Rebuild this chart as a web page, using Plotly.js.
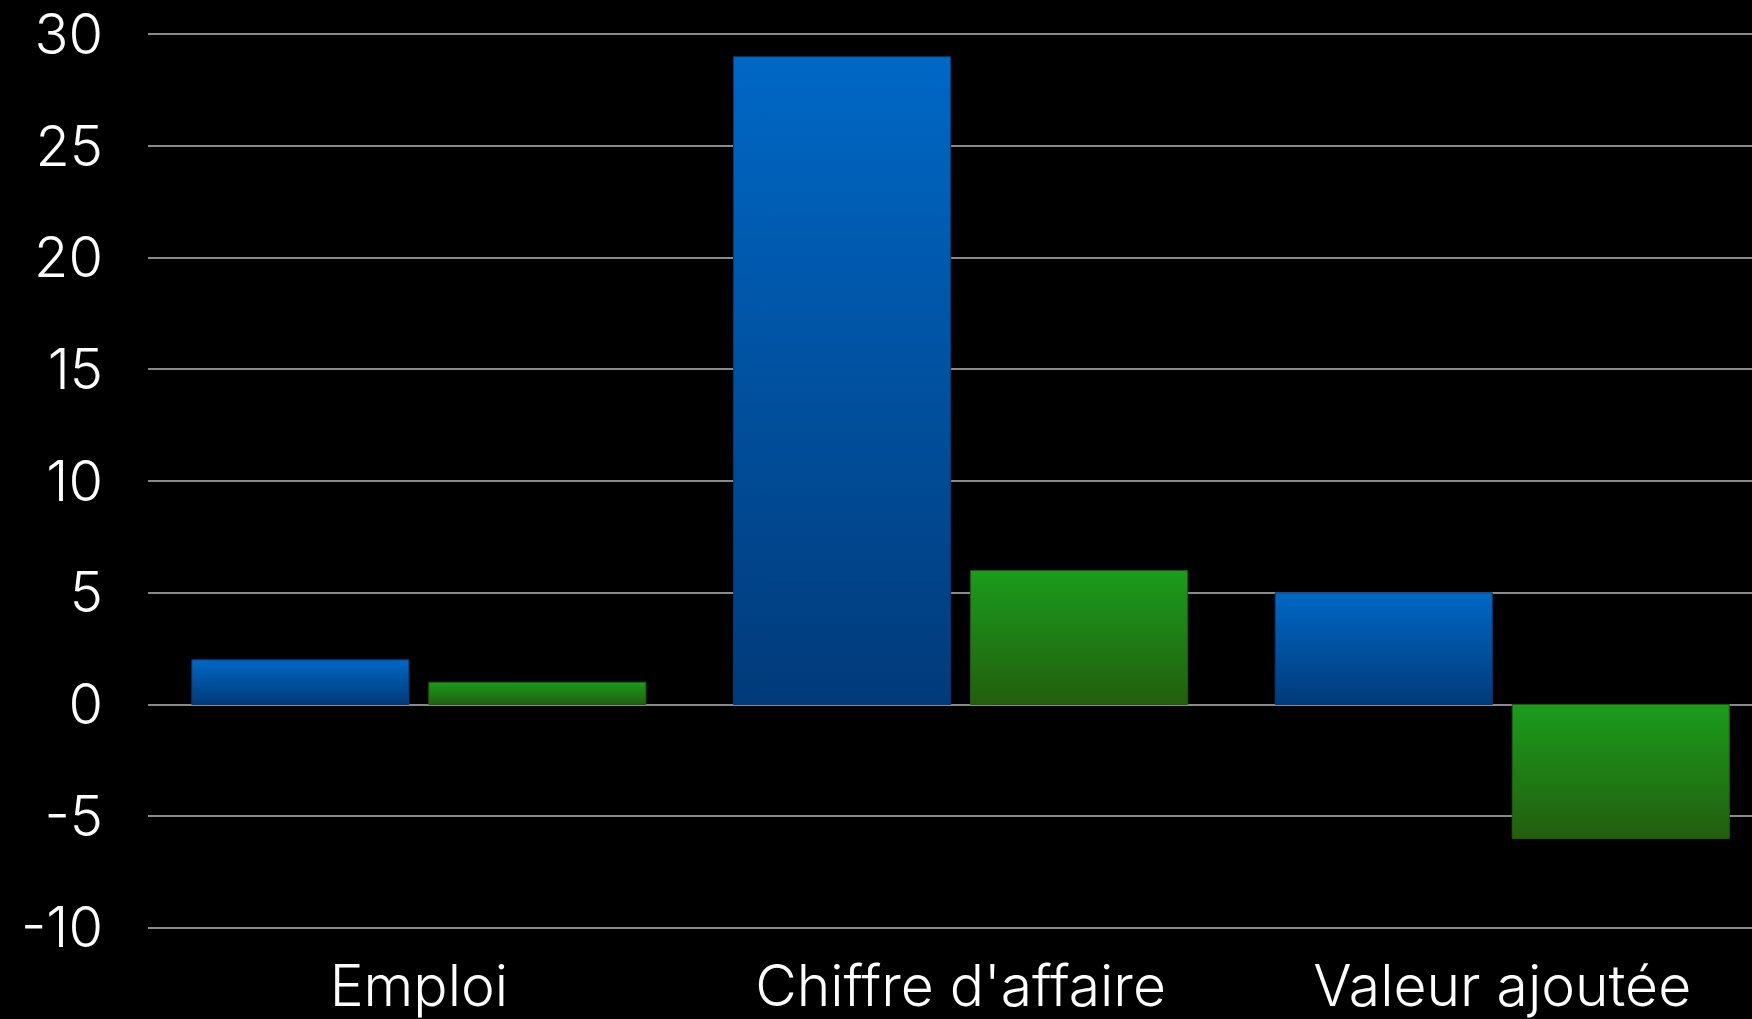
<!DOCTYPE html>
<html>
<head>
<meta charset="utf-8">
<script src="https://cdn.plot.ly/plotly-3.0.1.min.js"></script>
<style>
  html, body { margin: 0; padding: 0; background: #000; }
  #chart { width: 1752px; height: 1019px; }
</style>
</head>
<body>
<div id="chart"></div>
<script>
const categories = ['Emploi', "Chiffre d'affaire", 'Valeur ajoutée'];
const seriesBlue = [2, 29, 5];
const seriesGreen = [1, 6, -6];
const yTickValues = [-10, -5, 0, 5, 10, 15, 20, 25, 30];

const fontFamily = 'Inter, "Open Sans", Roboto, "Liberation Sans", sans-serif';

const traces = [
  {
    type: 'bar',
    x: categories,
    y: seriesBlue,
    name: 'A',
    marker: { color: '#0058b0', line: { width: 1, color: '#003a78' } },
    hoverinfo: 'skip'
  },
  {
    type: 'bar',
    x: categories,
    y: seriesGreen,
    name: 'B',
    marker: { color: '#1e8a18', line: { width: 1, color: '#1d5a10' } },
    hoverinfo: 'skip'
  }
];

const layout = {
  width: 1752,
  height: 1019,
  paper_bgcolor: '#000',
  plot_bgcolor: '#000',
  showlegend: false,
  barmode: 'group',
  bargap: 0.125,
  bargroupgap: 0.084,
  margin: { l: 148, r: 0, t: 10, b: 90, pad: 0 },
  font: { family: fontFamily, color: '#fff', size: 56, weight: 300 },
  xaxis: {
    type: 'category',
    range: [-0.5, 2.461],
    showgrid: false,
    zeroline: false,
    showline: false,
    ticks: '',
    ticklabelstandoff: 19,
    ticklabeloverflow: 'allow',
    tickfont: { family: fontFamily, size: 57, color: '#fff', weight: 300 }
  },
  yaxis: {
    range: [-10.05, 31.09],
    tickvals: yTickValues,
    ticktext: yTickValues.map(String),
    showgrid: true,
    gridcolor: '#8a8a8a',
    gridwidth: 2,
    zeroline: true,
    zerolinecolor: '#8a8a8a',
    zerolinewidth: 2,
    showline: false,
    ticks: '',
    ticklabelstandoff: 44,
    ticklabeloverflow: 'allow',
    tickfont: { family: fontFamily, size: 56, color: '#fff', weight: 300 }
  }
};

Plotly.newPlot('chart', traces, layout, { staticPlot: true, displayModeBar: false }).then(function (gd) {
  const svg = gd.querySelector('.main-svg');
  const ns = 'http://www.w3.org/2000/svg';
  let defs = svg.querySelector('defs');
  if (!defs) { defs = document.createElementNS(ns, 'defs'); svg.insertBefore(defs, svg.firstChild); }
  function grad(id, top, bottom) {
    const g = document.createElementNS(ns, 'linearGradient');
    g.setAttribute('id', id);
    g.setAttribute('x1', '0'); g.setAttribute('y1', '0');
    g.setAttribute('x2', '0'); g.setAttribute('y2', '1');
    const s1 = document.createElementNS(ns, 'stop');
    s1.setAttribute('offset', '0'); s1.setAttribute('stop-color', top);
    const s2 = document.createElementNS(ns, 'stop');
    s2.setAttribute('offset', '1'); s2.setAttribute('stop-color', bottom);
    g.appendChild(s1); g.appendChild(s2);
    defs.appendChild(g);
  }
  grad('gradBlue', '#0068c6', '#013a7a');
  grad('gradGreen', '#1b9c1c', '#235e0e');
  const barTraces = gd.querySelectorAll('.barlayer .trace');
  const ids = ['gradBlue', 'gradGreen'];
  barTraces.forEach(function (t, i) {
    t.querySelectorAll('.point path').forEach(function (p) {
      p.style.fill = 'url(#' + ids[i] + ')';
    });
  });
});
</script>
</body>
</html>
